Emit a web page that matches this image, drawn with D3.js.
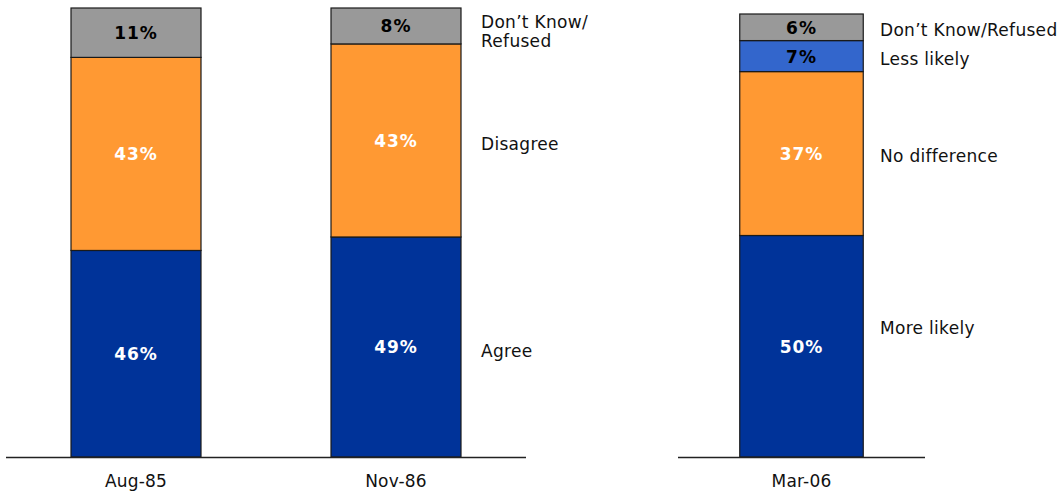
<!DOCTYPE html>
<html>
<head>
<meta charset="utf-8">
<script src="https://cdn.jsdelivr.net/npm/d3@7"></script>
<style>
  html, body { margin: 0; padding: 0; background: #fff; }
  svg { display: block; font-family: "DejaVu Sans", Verdana, sans-serif; }
</style>
</head>
<body>
<svg id="chart" width="1063" height="495"></svg>
<script>
// Left panel: agree / disagree survey waves
const leftCategories = ["Aug-85", "Nov-86"];
const leftSeries = ["Agree", "Disagree", "Don\u2019t Know/Refused"];
const leftAgree = [46, 49];
const leftDisagree = [43, 43];
const leftDontKnow = [11, 8];
const leftLegend = [["Agree"], ["Disagree"], ["Don\u2019t Know/", "Refused"]];

// Right panel: more / less likely
const rightCategories = ["Mar-06"];
const rightSeries = ["More likely", "No difference", "Less likely", "Don\u2019t Know/Refused"];
const rightMore = [50];
const rightNoDiff = [37];
const rightLess = [7];
const rightDontKnow = [6];
const rightLegend = [["More likely"], ["No difference"], ["Less likely"], ["Don\u2019t Know/Refused"]];

const svg = d3.select("#chart");

function drawPanel(opts) {
  const { categories, keys, values, colors, textColors, legend, legendDy,
          x0, x1, yTop, yBottom, legendX } = opts;

  const rows = categories.map((c, i) => {
    const r = { cat: c };
    keys.forEach((k, j) => { r[k] = values[j][i]; });
    return r;
  });

  const x = d3.scaleBand().domain(categories).range([x0, x1]).paddingInner(0.5).paddingOuter(0.25);
  const y = d3.scaleLinear().domain([0, 100]).range([yBottom, yTop]);
  const stacked = d3.stack().keys(keys)(rows);

  const g = svg.append("g");

  stacked.forEach((layer, li) => {
    const lg = g.append("g");
    lg.selectAll("rect").data(layer).join("rect")
      .attr("x", d => x(d.data.cat))
      .attr("width", x.bandwidth())
      .attr("y", d => y(d[1]))
      .attr("height", d => y(d[0]) - y(d[1]))
      .attr("fill", colors[li])
      .attr("stroke", "#1a1a1a")
      .attr("stroke-width", 1.2);

    lg.selectAll("text").data(layer).join("text")
      .attr("x", d => x(d.data.cat) + x.bandwidth() / 2)
      .attr("y", d => (y(d[0]) + y(d[1])) / 2)
      .attr("dy", "0.38em")
      .attr("text-anchor", "middle")
      .attr("font-size", 17)
      .attr("font-weight", "bold")
      .attr("letter-spacing", 1)
      .attr("fill", textColors[li])
      .text(d => (d[1] - d[0]) + "%");
  });

  // legend labels beside the last bar
  const last = categories[categories.length - 1];
  stacked.forEach((layer, li) => {
    const d = layer.find(e => e.data.cat === last);
    const mid = (y(d[0]) + y(d[1])) / 2 + (legendDy[li] || 0);
    const lines = legend[li];
    const lh = 19;
    const t = g.append("text")
      .attr("x", legendX)
      .attr("font-size", 17)
      .attr("letter-spacing", 0.3)
      .attr("fill", "#111");
    lines.forEach((ln, k) => {
      t.append("tspan")
        .attr("x", legendX)
        .attr("y", mid + (k - (lines.length - 1) / 2) * lh)
        .attr("dy", "0.36em")
        .text(ln);
    });
  });

  // baseline axis
  const axis = d3.axisBottom(x).tickSize(0).tickPadding(18);
  const ag = g.append("g").attr("transform", `translate(0,${yBottom})`).call(axis);
  ag.select(".domain").attr("d", `M${x0},0.5H${x1}`).attr("stroke", "#222").attr("stroke-width", 1.3);
  ag.selectAll("text").attr("font-size", 17).attr("letter-spacing", 0.2).attr("fill", "#111")
    .attr("font-family", "\"DejaVu Sans\", Verdana, sans-serif");
}

drawPanel({
  categories: leftCategories,
  keys: leftSeries,
  values: [leftAgree, leftDisagree, leftDontKnow],
  colors: ["#003399", "#FF9933", "#999999"],
  textColors: ["#ffffff", "#ffffff", "#000000"],
  legend: leftLegend,
  legendDy: [4, 3, 5],
  x0: 6, x1: 526, yTop: 8, yBottom: 457,
  legendX: 481
});

drawPanel({
  categories: rightCategories,
  keys: rightSeries,
  values: [rightMore, rightNoDiff, rightLess, rightDontKnow],
  colors: ["#003399", "#FF9933", "#3366CC", "#999999"],
  textColors: ["#ffffff", "#ffffff", "#000000", "#000000"],
  legend: rightLegend,
  legendDy: [-18, 2, 3, 3],
  x0: 678, x1: 925, yTop: 14, yBottom: 457,
  legendX: 880
});
</script>
</body>
</html>
